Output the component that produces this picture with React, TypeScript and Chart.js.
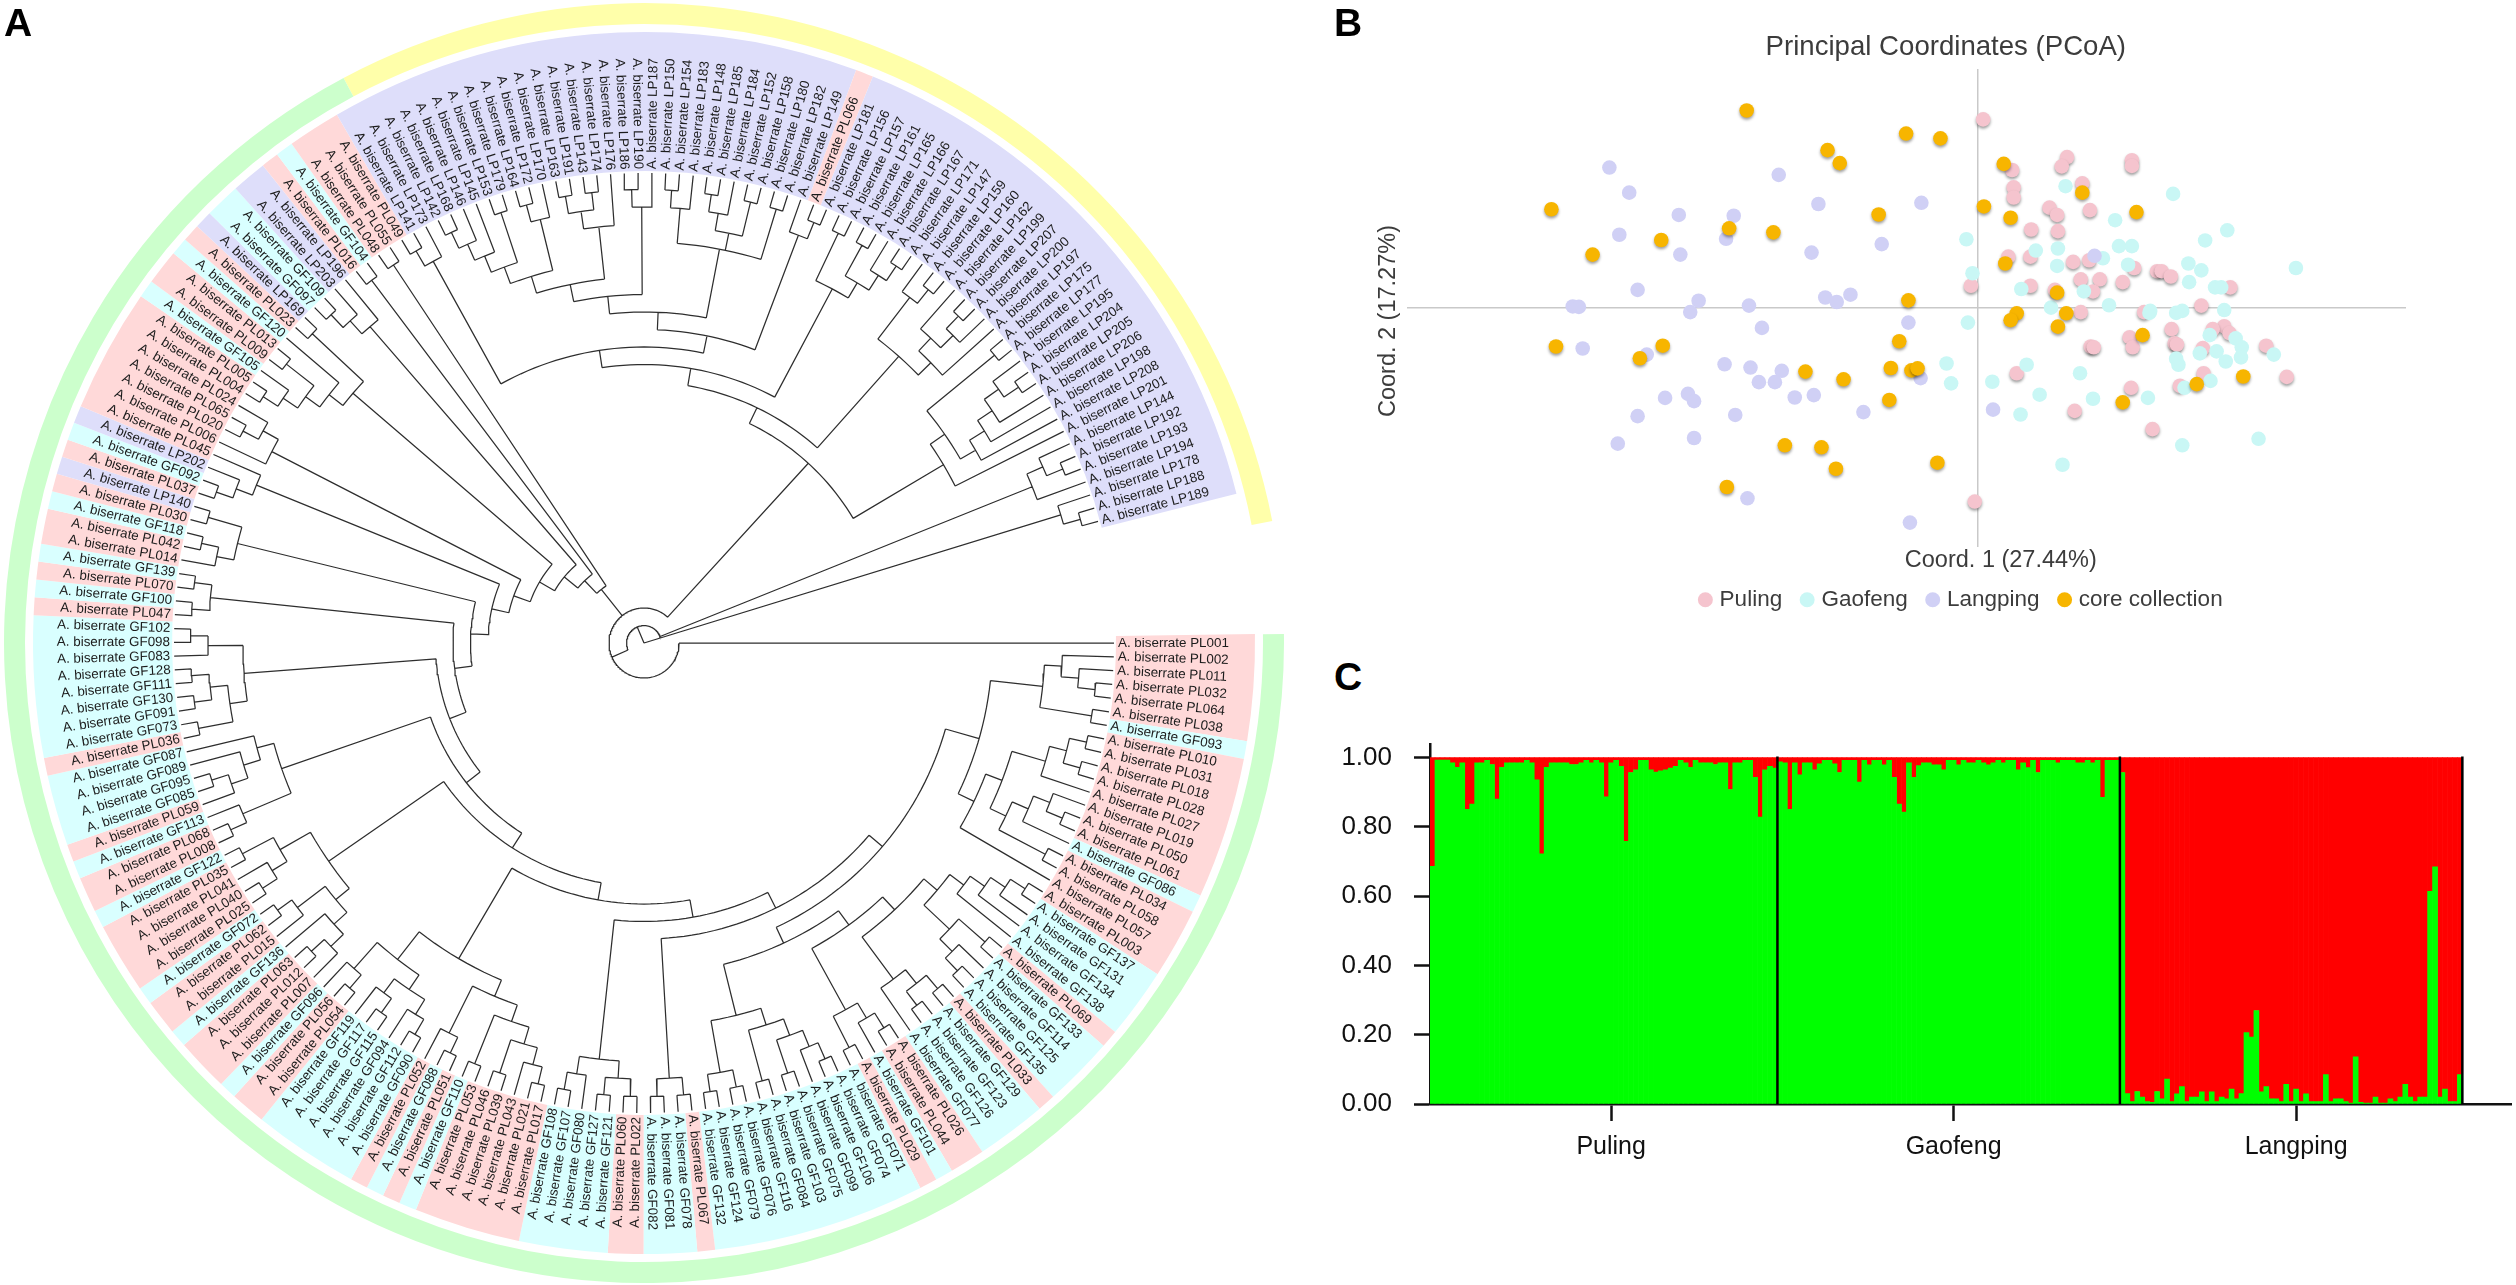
import React, { useEffect, useRef } from "react";
import { Chart, registerables } from "chart.js";

Chart.register(...registerables);

// ---------- Panel A : the tree (clades listed clockwise from PL001) ----------
const cladeA = "((PL002,(PL011,(PL032,PL064))),(PL038,GF093))";
const cladeZ = "(((PL010,PL031),(PL018,PL028)),PL027)";
const cladeW = "(((PL019,(PL050,PL061)),GF086),(PL034,PL058))";
const cladeX = `((${cladeZ},${cladeW}),PL057)`;
const cladeNA = `(${cladeA},${cladeX})`;
const cladeC1 = "(((((PL003,GF137),GF131),GF134),GF138),((PL069,GF133),(GF114,(GF125,GF135))))";
const cladeC2 = `(${cladeC1},(((PL033,GF129),(GF123,GF126)),GF077))`;
const cladeC3 = "(((PL026,PL044),GF101),(PL029,GF071))";
const cladeC5 = "(((((GF074,GF106),GF099),(GF075,GF103)),(GF084,GF116)),((GF076,GF079),(GF124,GF132)))";
const cladeD = `(${cladeNA},((${cladeC2},${cladeC3}),${cladeC5}))`;
const cladeE = "((PL067,GF078),(GF081,GF082))";
const cladeG = "(((PL022,PL060),(GF121,GF127)),(GF080,(GF107,GF108)))";
const cladeIa = "(((((PL017,PL021),PL043),(PL039,PL046)),(PL053,GF110)),((PL051,GF088),PL052))";
const cladeIb = "((((GF090,GF112),GF094),((GF115,GF117),GF119)),((PL054,PL056),GF096))";
const cladeJ = "((((PL007,(PL012,PL063)),GF136),(PL015,(PL062,GF072))),(((PL025,PL040),PL041),(PL035,GF122)))";
const cladeK = "(((PL008,PL068),GF113),(((PL059,(GF085,GF095)),GF089),GF087))";
const cladeL = "(((PL036,GF073),((GF091,GF130),(GF111,GF128))),(GF083,(GF098,GF102)))";
const cladeM = "((PL047,GF100),(PL070,GF139))";
const cladeN = "((PL014,(PL042,GF118)),(PL030,LP140))";
const cladeO = "(((PL037,GF092),LP202),PL045)";
const cladeP = "(PL006,((PL020,PL065),PL024))";
const cladeQ = "(((((PL004,PL005),GF105),(PL009,PL013)),GF120),(PL023,LP169))";
const cladeR = "(((GF097,GF109),LP203),LP196)";
const cladeS = "(PL016,GF104)";
const cladeS2 = "(PL048,PL055)";
const ladderClades = [cladeE, cladeG, `(${cladeIa},${cladeIb})`, cladeJ, cladeK, cladeL, cladeM, cladeN, cladeO, cladeP, cladeQ, cladeR, cladeS, cladeS2];
const bigClade = ladderClades.reduce((inner, c) => `(${inner},${c})`, cladeD);
const cladeT1 = "((PL049,LP141),LP173)";
const cladeH5 = "(((((LP142,LP168),LP146),LP145),(LP153,LP179)),((LP164,LP172),LP170))";
const cladeH3 = "(((LP163,LP191),(LP143,LP174)),LP176)";
const cladeV7 = `((${cladeH5},${cladeH3}),((LP186,LP190),LP187))`;
const cladeH4b = "(((LP150,LP154),LP183),(((LP148,LP185),LP184),(LP152,LP158)),(LP180,LP182))";
const cladeH9 = `((${cladeV7},${cladeH4b}),(LP149,(PL066,LP181)))`;
const cladeC6 = "((LP156,LP157),((LP161,LP165),(LP166,(LP167,LP171))))";
const cladeU = "((LP147,(LP159,LP160)),((LP162,((LP199,LP207),LP200)),LP197))";
const cladeH7 = "(((LP175,LP177),((((LP195,(LP204,LP205)),LP206),LP198),LP208)),LP201)";
const cladeT = `((((${cladeT1},${cladeH9}),${cladeC6}),${cladeU}),${cladeH7})`;
const treeNewick = `(((PL001,${bigClade},${cladeT})@35,((LP144,(LP192,LP193)),LP194))@17.4,(LP178,(LP188,LP189)))@0`;

// ---------- Panel B : PCoA points (Coord. 1, Coord. 2) ----------
const pulingPts = [[7,466],[117,373],[110,350],[202,365],[202,351],[45,341],[47,298],[47,273],[137,308],[94,248],[104,230],[147,242],[70,194],[105,190],[40,127],[69,127],[125,114],[146,118],[205,99],[235,91],[241,91],[253,78],[135,71],[160,71],[190,64],[-9,55],[69,55],[331,51],[151,41],[101,45],[293,6],[218,-10],[135,-10],[254,-52],[323,-45],[308,-52],[330,-62],[199,-72],[203,-97],[148,-95],[152,-97],[258,-87],[261,-90],[295,-99],[378,-93],[51,-161],[296,-161],[405,-170],[201,-197],[265,-192],[127,-254],[229,-299],[-4,-478]];
const gaofengPts = [[115,301],[256,282],[180,217],[327,192],[298,167],[-15,170],[185,153],[202,153],[76,142],[105,147],[164,123],[276,110],[417,99],[197,107],[104,104],[293,93],[-7,86],[277,64],[57,47],[139,41],[311,51],[319,51],[172,7],[96,1],[225,-12],[226,-7],[260,-12],[268,-7],[323,-5],[-13,-36],[304,-67],[338,-75],[346,-97],[291,-112],[313,-107],[345,-122],[260,-125],[263,-140],[325,-132],[388,-115],[-41,-137],[64,-140],[134,-161],[-35,-186],[19,-182],[305,-180],[271,-197],[81,-214],[151,-224],[223,-222],[56,-263],[268,-339],[368,-323],[111,-387]];
const langpingPts = [[-483,347],[-261,329],[-457,285],[-209,257],[-74,260],[-392,230],[-320,228],[-470,181],[-330,171],[-126,158],[-390,132],[-218,137],[153,129],[-446,45],[-167,33],[-200,26],[-185,15],[-366,18],[-300,6],[-531,4],[-523,3],[-377,-10],[-91,-36],[-283,-49],[-518,-100],[-434,-115],[-332,-139],[-298,-147],[-257,-155],[-75,-173],[-287,-183],[-266,-183],[-380,-212],[-410,-222],[-372,-230],[-215,-215],[-240,-221],[-446,-267],[-318,-264],[-150,-257],[20,-251],[-472,-335],[-372,-321],[-302,-470],[-89,-530]];
const corePts = [[-303,488],[-94,431],[-49,419],[-197,390],[-181,358],[34,356],[137,285],[-559,244],[8,251],[-130,231],[43,223],[208,237],[-326,197],[-268,187],[-415,168],[-505,132],[36,110],[104,38],[-91,19],[116,-13],[51,-13],[43,-30],[105,-46],[216,-67],[-103,-82],[-553,-95],[-413,-93],[-443,-124],[-226,-157],[-114,-148],[-87,-154],[-79,-149],[-176,-176],[348,-169],[287,-188],[-116,-227],[190,-233],[-253,-339],[-205,-344],[-186,-397],[-53,-382],[-329,-442]];

// ---------- Panel C : proportion of the green cluster per sample ----------
const pulingGreen = [.686,.993,.993,.993,.985,.972,.985,.851,.866,.985,.985,.992,.98,.88,.972,.985,.985,.985,.985,.992,.985,.936,.722,.972,.985,.985,.985,.985,.98,.98,.985,.992,.985,.992,.985,.887,.985,.992,.975,.758,.957,.965,.992,.992,.965,.958,.962,.965,.97,.975,.992,.985,.972,.992,.985,.985,.985,.98,.985,.985,.908,.985,.985,.992,.992,.943,.828,.965,.975,.97];
const gaofengGreen = [.988,.985,.851,.985,.95,.985,.985,.965,.982,.992,.992,.982,.957,.992,.992,.992,.929,.992,.979,.992,.992,.979,.992,.943,.866,.843,.985,.943,.977,.985,.985,.979,.979,.965,.992,.992,.979,.992,.985,.985,.992,.985,.979,.985,.992,.985,.992,.992,.965,.985,.971,.992,.957,.992,.992,.992,.985,.992,.992,.992,.985,.985,.992,.985,.992,.885,.992,.992,.992];
const langpingGreen = [.957,.03,.007,.036,.02,.007,.005,.036,.015,.072,.007,.029,.05,.007,.02,.02,.035,.007,.035,.007,.02,.015,.043,.015,.03,.206,.193,.27,.035,.05,.015,.015,.007,.057,.007,.043,.007,.029,.007,.007,.007,.085,.007,.015,.015,.007,.003,.136,.005,.003,.003,.02,.003,.003,.015,.007,.02,.057,.02,.007,.02,.02,.614,.685,.02,.043,.007,.007,.085];
const populationNames = ["Puling", "Gaofeng", "Langping"];
const populationTickAt = [36, 105, 174];
const populationEnds = [70, 139, 208];
const yTickValues = [0, 0.2, 0.4, 0.6, 0.8, 1];

// ---------- tree helpers ----------
type TNode = { name?: string; kids: TNode[]; r: number; t: number; h: number; fixed?: number };
const LEAF_STEP = 1.683;

function parseNewick(s: string): TNode {
  let i = 0;
  const read = (): TNode => {
    if (s[i] === "(") {
      i++;
      const kids: TNode[] = [read()];
      while (s[i] === ",") { i++; kids.push(read()); }
      i++;
      let fixed: number | undefined;
      if (s[i] === "@") {
        i++;
        let j = i;
        while (j < s.length && /[0-9.]/.test(s[j])) j++;
        fixed = parseFloat(s.slice(i, j));
        i = j;
      }
      return { kids, r: 0, t: 0, h: 0, fixed };
    }
    let j = i;
    while (j < s.length && /[A-Z0-9]/.test(s[j])) j++;
    const name = s.slice(i, j);
    i = j;
    return { name, kids: [], r: 0, t: 0, h: 0 };
  };
  return read();
}

const root = parseNewick(treeNewick);
const leaves: TNode[] = [];
(function lay(n: TNode) {
  if (!n.kids.length) {
    n.t = leaves.length * LEAF_STEP;
    n.r = 470;
    n.h = 0;
    leaves.push(n);
    return;
  }
  n.kids.forEach(lay);
  n.h = Math.max(...n.kids.map((k) => k.h)) + 1;
  n.r = n.fixed ?? 471 - 17.5 * n.h;
  n.t = (n.kids[0].t + n.kids[n.kids.length - 1].t) / 2;
})(root);

const polar = (r: number, t: number) => ({
  x: r * Math.cos((t * Math.PI) / 180),
  y: -r * Math.sin((t * Math.PI) / 180),
});
const GAP = { x: NaN, y: NaN };
const treePath: { x: number; y: number }[] = [];
(function walk(n: TNode) {
  if (!n.kids.length) return;
  const a = n.kids[0].t;
  const b = n.kids[n.kids.length - 1].t;
  if (n.r > 0) {
    const steps = Math.max(2, Math.ceil((b - a) / 1.5));
    for (let k = 0; k <= steps; k++) treePath.push(polar(n.r, a + ((b - a) * k) / steps));
    treePath.push(GAP);
  }
  n.kids.forEach((c) => {
    treePath.push(polar(n.r, c.t), polar(c.r, c.t), GAP);
    walk(c);
  });
})(root);

const groupColor = (name: string) =>
  name.startsWith("PL") ? "#ffd9d9" : name.startsWith("GF") ? "#d9ffff" : "#dedefa";

const sectorRuns: { size: number; color: string }[] = [];
leaves.forEach((l) => {
  const color = groupColor(l.name as string);
  const last = sectorRuns[sectorRuns.length - 1];
  if (last && last.color === color) last.size += LEAF_STEP;
  else sectorRuns.push({ size: LEAF_STEP, color });
});
sectorRuns.push({ size: 360 - leaves.length * LEAF_STEP, color: "rgba(0,0,0,0)" });

const toXY = (p: number[]) => ({ x: p[0] / 1000, y: p[1] / 1000 });
const FONT = '"Liberation Sans", Arial, sans-serif';

function useChart(make: (c: HTMLCanvasElement) => Chart) {
  const ref = useRef<HTMLCanvasElement>(null);
  useEffect(() => {
    const chart = make(ref.current as HTMLCanvasElement);
    return () => chart.destroy();
  }, []);
  return ref;
}

const base = { responsive: false, animation: false as const, devicePixelRatio: 1 };

function makeRings(c: HTMLCanvasElement) {
  return new Chart(c, {
    type: "doughnut",
    data: {
      labels: [],
      datasets: [
        { data: [107, 10.2, 242.8], backgroundColor: ["#ffffaa", "rgba(0,0,0,0)", "#ccffcc"], borderWidth: 0, weight: 21, rotation: 332 },
        { data: [1], backgroundColor: ["rgba(0,0,0,0)"], borderWidth: 0, weight: 8 },
        { data: sectorRuns.map((s) => s.size), backgroundColor: sectorRuns.map((s) => s.color), borderWidth: 0, weight: 139, rotation: 90 - LEAF_STEP / 2 },
      ],
    } as any,
    options: {
      ...base,
      cutout: "73.75%",
      layout: { padding: 0 },
      plugins: { legend: { display: false }, tooltip: { enabled: false } },
    } as any,
  });
}

function makeTree(c: HTMLCanvasElement) {
  const labelPlugin = {
    id: "leafLabels",
    afterDatasetsDraw(chart: any) {
      const { ctx, scales } = chart;
      ctx.save();
      ctx.font = `13.4px ${FONT}`;
      ctx.fillStyle = "#1c1c1c";
      ctx.textBaseline = "middle";
      leaves.forEach((l) => {
        const p = polar(474, l.t);
        const px = scales.x.getPixelForValue(p.x);
        const py = scales.y.getPixelForValue(p.y);
        const flip = l.t > 90 && l.t < 270;
        ctx.save();
        ctx.translate(px, py);
        ctx.rotate((((flip ? l.t + 180 : l.t) as number) * Math.PI) / 180);
        ctx.textAlign = flip ? "right" : "left";
        ctx.fillText(`A. biserrate ${l.name}`, 0, 0);
        ctx.restore();
      });
      ctx.restore();
    },
  };
  return new Chart(c, {
    type: "scatter",
    data: {
      datasets: [
        { data: treePath, showLine: true, spanGaps: false, pointRadius: 0, borderColor: "#2e2e2e", borderWidth: 1.25, tension: 0 },
      ],
    } as any,
    options: {
      ...base,
      layout: { padding: 0 },
      scales: {
        x: { type: "linear", min: -640, max: 640, display: false },
        y: { type: "linear", min: -640, max: 640, display: false },
      },
      plugins: { legend: { display: false }, tooltip: { enabled: false } },
    } as any,
    plugins: [labelPlugin],
  });
}

function makePcoa(c: HTMLCanvasElement) {
  const pcoaPlugin = {
    id: "pcoaText",
    afterLayout(chart: any) {
      const l = chart.legend;
      l.top += 20; l.bottom += 20; l.left += 56; l.right += 56;
    },
    beforeDatasetDraw(chart: any, args: any) {
      const ctx = chart.ctx;
      ctx.save();
      if (args.index === 0 || args.index === 3) {
        ctx.shadowColor = "rgba(0,0,0,0.38)";
        ctx.shadowBlur = 3;
        ctx.shadowOffsetY = 2;
      }
    },
    afterDatasetDraw(chart: any) {
      chart.ctx.restore();
    },
    afterDraw(chart: any) {
      const { ctx, scales } = chart;
      const x0 = scales.x.getPixelForValue(0);
      const y0 = scales.y.getPixelForValue(0);
      ctx.save();
      ctx.fillStyle = "#3c3c3c";
      ctx.textAlign = "center";
      ctx.textBaseline = "middle";
      ctx.font = `27.6px ${FONT}`;
      ctx.fillText("Principal Coordinates (PCoA)", x0 - 32, 47);
      ctx.font = `23.5px ${FONT}`;
      ctx.fillText("Coord. 1 (27.44%)", x0 + 23, 561);
      ctx.translate(59, y0 + 13);
      ctx.rotate(-Math.PI / 2);
      ctx.fillText("Coord. 2 (17.27%)", 0, 0);
      ctx.restore();
    },
  };
  const axis = (position: any, min: number, max: number) => ({
    type: "linear",
    position,
    min,
    max,
    ticks: { display: false },
    grid: { display: true, drawOnChartArea: false, drawTicks: false },
    border: { display: true, color: "#c9c9c9", width: 1.5 },
  });
  const ds = (label: string, pts: number[][], color: string, order: number) => ({
    label,
    data: pts.map(toXY),
    backgroundColor: color,
    borderColor: color,
    borderWidth: 0,
    pointRadius: 7.3,
    pointStyle: "circle",
    order,
  });
  return new Chart(c, {
    type: "scatter",
    data: {
      datasets: [
        ds("Puling", pulingPts, "#f5c4ce", 3),
        ds("Gaofeng", gaofengPts, "#c9f7f5", 2),
        ds("Langping", langpingPts, "#d0d0f5", 1),
        ds("core collection", corePts, "#f7b500", 0),
      ],
    } as any,
    options: {
      ...base,
      layout: { padding: { left: 78, right: 111, top: 70, bottom: 39 } },
      scales: {
        x: axis({ y: 0 }, -0.747, 0.56),
        y: axis({ x: 0 }, -0.589, 0.588),
      },
      plugins: {
        tooltip: { enabled: false },
        legend: {
          position: "bottom",
          labels: {
            usePointStyle: true,
            pointStyle: "circle",
            boxHeight: 10.6,
            boxWidth: 6,
            padding: 22,
            color: "#3c3c3c",
            font: { size: 22.5, family: FONT },
            sort: (a: any, b: any) => a.datasetIndex - b.datasetIndex,
          },
        },
      },
    } as any,
    plugins: [pcoaPlugin],
  });
}

function makeStructure(c: HTMLCanvasElement) {
  const green = [...pulingGreen, ...gaofengGreen, ...langpingGreen];
  const red = green.map((g) => 1 - g);
  const labels = [...green.map((_, i) => `S${i + 1}`), ...Array.from({ length: 10 }, () => "")];
  const separators = {
    id: "separators",
    afterDatasetsDraw(chart: any) {
      const { ctx, scales, chartArea } = chart;
      const yTop = scales.y.getPixelForValue(1) - 1;
      ctx.save();
      ctx.strokeStyle = "#000";
      ctx.lineWidth = 2.5;
      populationEnds.forEach((e) => {
        const x = scales.x.getPixelForValue(e - 0.5);
        ctx.beginPath();
        ctx.moveTo(x, yTop);
        ctx.lineTo(x, chartArea.bottom);
        ctx.stroke();
      });
      ctx.restore();
    },
  };
  return new Chart(c, {
    type: "bar",
    data: {
      labels,
      datasets: [
        { label: "green", data: green, backgroundColor: "#00ff00", stack: "s", barPercentage: 1, categoryPercentage: 1 },
        { label: "red", data: red, backgroundColor: "#ff0000", stack: "s", barPercentage: 1, categoryPercentage: 1 },
      ],
    } as any,
    options: {
      ...base,
      layout: { padding: 0 },
      scales: {
        x: {
          stacked: true,
          afterFit: (a: any) => { a.height = 81; },
          afterBuildTicks: (a: any) => { a.ticks = populationTickAt.map((value) => ({ value })); },
          grid: { offset: false, drawOnChartArea: false, tickLength: 17, tickColor: "#111", tickWidth: 2.5 },
          border: { color: "#111", width: 2.5 },
          ticks: {
            autoSkip: false,
            maxRotation: 0,
            padding: 11,
            color: "#111",
            font: { size: 25, family: FONT },
            callback: (v: number) => populationNames[populationTickAt.indexOf(v)],
          },
        },
        y: {
          stacked: true,
          min: 0,
          max: 1.0375,
          afterFit: (a: any) => { a.width = 90; },
          afterBuildTicks: (a: any) => { a.ticks = yTickValues.map((value) => ({ value })); },
          grid: { drawOnChartArea: false, tickLength: 16, tickColor: "#111", tickWidth: 2.5 },
          border: { color: "#111", width: 2.5 },
          ticks: {
            padding: 22,
            color: "#111",
            font: { size: 26, family: FONT },
            callback: (v: number) => v.toFixed(2),
          },
        },
      },
      plugins: { legend: { display: false }, tooltip: { enabled: false } },
    } as any,
    plugins: [separators],
  });
}

const abs = (left: number, top: number): React.CSSProperties => ({ position: "absolute", left, top, display: "block" });
const letter = (left: number, top: number): React.CSSProperties => ({
  position: "absolute", left, top, font: `bold 39px/39px ${FONT}`, color: "#000",
});

export default function App() {
  const rings = useChart(makeRings);
  const tree = useChart(makeTree);
  const pcoa = useChart(makePcoa);
  const structure = useChart(makeStructure);
  useEffect(() => { document.body.style.margin = "0"; }, []);
  return (
    <div style={{ position: "relative", width: 2516, height: 1285, overflow: "hidden", background: "#fff" }}>
      <canvas ref={rings} width={1280} height={1280} style={abs(4, 3)} />
      <canvas ref={tree} width={1280} height={1280} style={abs(4, 3)} />
      <canvas ref={pcoa} width={1186} height={640} style={abs(1330, 0)} />
      <canvas ref={structure} width={1172} height={478} style={abs(1340, 707)} />
      <div style={letter(4, 3)}>A</div>
      <div style={letter(1334, 3)}>B</div>
      <div style={letter(1334, 657)}>C</div>
    </div>
  );
}
